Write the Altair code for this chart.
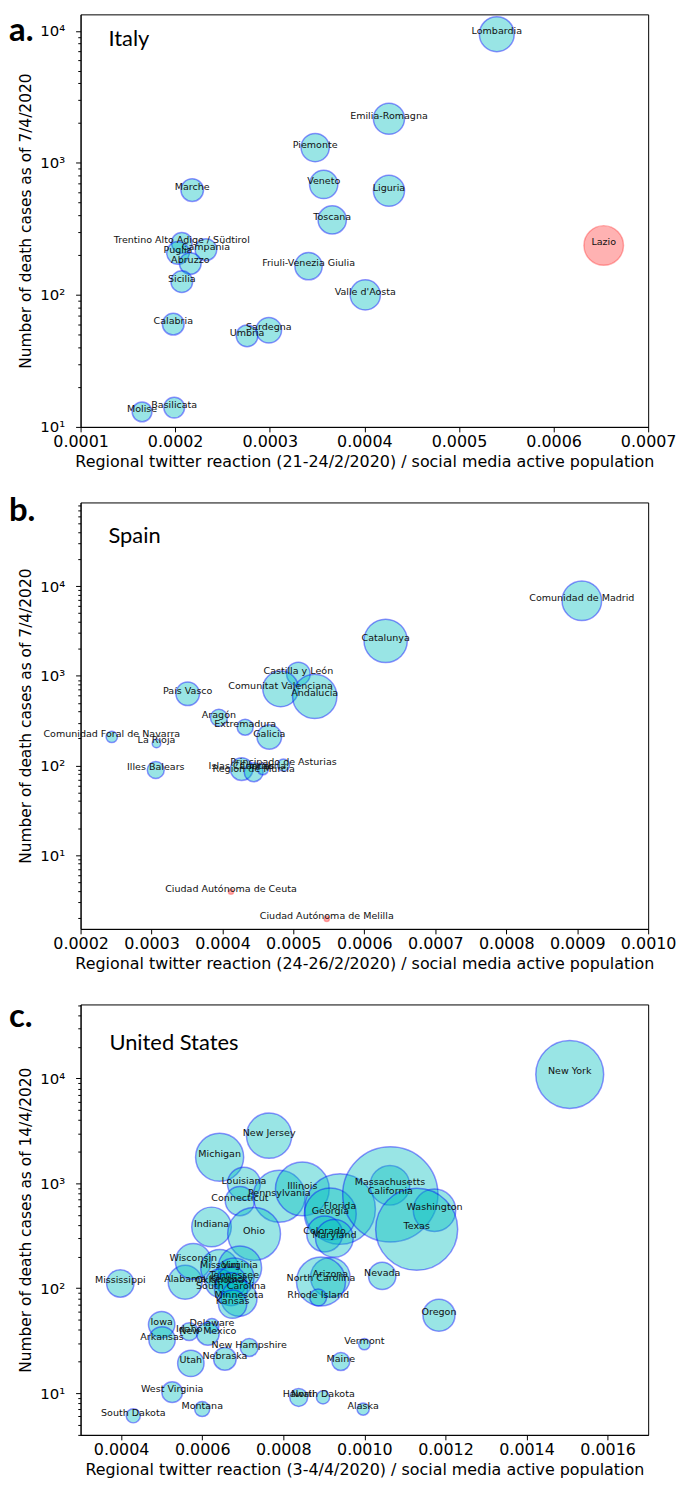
import altair as alt
import pandas as pd

# ---------------- Italy ----------------
it_region = ["Lombardia", "Emilia-Romagna", "Piemonte", "Marche", "Veneto", "Liguria",
             "Toscana", "Lazio", "Trentino Alto Adige / Südtirol", "Puglia", "Campania",
             "Abruzzo", "Sicilia", "Friuli-Venezia Giulia", "Valle d'Aosta", "Calabria",
             "Umbria", "Sardegna", "Molise", "Basilicata"]
it_tweet = [0.000540, 0.000426, 0.000348, 0.000218, 0.000357, 0.000426,
            0.000366, 0.000653, 0.000207, 0.000203, 0.0002325,
            0.000216, 0.000207, 0.000341, 0.000401, 0.000198,
            0.000276, 0.000299, 0.000165, 0.000199]
it_deaths = [9440, 2160, 1306, 622, 687, 615,
             370, 237, 248, 208, 220,
             173, 126, 165, 100, 60,
             49, 54, 13, 14]
it_bubble = [1369, 1089, 900, 576, 900, 1089,
             900, 1764, 484, 576, 529,
             529, 529, 841, 1024, 529,
             529, 729, 441, 484]
it_group = ["main"] * 7 + ["outlier"] + ["main"] * 12

# ---------------- Spain ----------------
es_region = ["Comunidad de Madrid", "Catalunya", "Castilla y León", "Comunitat Valenciana",
             "Andalucía", "País Vasco", "Aragón", "Extremadura", "Galicia",
             "Comunidad Foral de Navarra", "La Rioja", "Illes Balears", "Islas Canarias",
             "Región de Murcia", "Cantabria", "Principado de Asturias",
             "Ciudad Autónoma de Ceuta", "Ciudad Autónoma de Melilla"]
es_tweet = [0.0009065, 0.000630, 0.000507, 0.000482,
            0.000530, 0.000351, 0.000395, 0.000432, 0.000466,
            0.000244, 0.000307, 0.000306, 0.000427,
            0.000444, 0.000457, 0.000486,
            0.000412, 0.000547]
es_deaths = [6870, 2455, 1050, 716,
             589, 630, 341, 267, 208,
             208, 176, 89, 91,
             84, 91, 101,
             3.9, 1.94]
es_bubble = [1764, 2116, 625, 1444,
             2209, 625, 324, 289, 676,
             144, 81, 324, 576,
             400, 144, 169,
             30, 30]
es_group = ["main"] * 16 + ["outlier", "outlier"]

# ---------------- United States ----------------
us_region = ["New York", "New Jersey", "Michigan", "Louisiana", "Connecticut", "Pennsylvania",
             "Illinois", "Indiana", "Ohio", "Florida", "Georgia", "Massachusetts",
             "California", "Washington", "Texas", "Colorado", "Maryland", "Nevada",
             "Arizona", "North Carolina", "Rhode Island", "Oregon", "Vermont", "Maine",
             "Hawaii", "North Dakota", "Alaska", "South Dakota", "Montana", "West Virginia",
             "Utah", "Nebraska", "New Hampshire", "Iowa", "Arkansas", "Idaho",
             "Delaware", "New Mexico", "Mississippi", "Alabama", "Wisconsin", "Missouri",
             "Virginia", "Tennessee", "Oklahoma", "Kentucky", "South Carolina", "Minnesota",
             "Kansas"]
us_tweet = [0.0015065, 0.000765, 0.000643, 0.000703, 0.000693, 0.000790,
            0.000847, 0.000623, 0.000728, 0.000940, 0.000916, 0.001063,
            0.001064, 0.001173, 0.001129, 0.000902, 0.000926, 0.001044,
            0.000916, 0.000893, 0.000886, 0.001184, 0.001000, 0.000942,
            0.000838, 0.000898, 0.000997, 0.000430, 0.000600, 0.000526,
            0.000572, 0.000656, 0.000716, 0.000500, 0.000501, 0.000568,
            0.000624, 0.000614, 0.000398, 0.000558, 0.000578, 0.000643,
            0.000693, 0.000679, 0.000643, 0.000672, 0.000671, 0.000691,
            0.000675]
us_deaths = [10910, 2846, 1770, 993, 678, 752,
             883, 384, 329, 569, 510, 957,
             785, 553, 365, 329, 299, 131,
             127, 116, 81.5, 55.3, 29.3, 20,
             9.1, 9.1, 7.05, 6.08, 7.05, 10.2,
             19.2, 21.2, 27.2, 45, 32.2, 38.6,
             44, 36.7, 111, 114, 180, 155,
             157, 126, 112, 115, 98, 80,
             70.5]
us_bubble = [5184, 2304, 2601, 1225, 961, 3025,
             3249, 1764, 3136, 5625, 3025, 1764,
             10201, 2025, 7569, 1444, 1600, 841,
             1764, 2704, 324, 1156, 144, 361,
             361, 196, 169, 225, 256, 484,
             784, 576, 361, 784, 784, 361,
             225, 576, 841, 1296, 1444, 1600,
             2116, 1764, 900, 1024, 1225, 1444,
             900]
us_group = ["main"] * len(us_region)


def log_ticks(lo, hi):
    vals = []
    for k in range(0, 6):
        for m in range(1, 10):
            v = m * 10 ** k
            if lo <= v <= hi:
                vals.append(v)
    return vals


SUP = ("datum.value == 1 ? '10\u2070' : datum.value == 10 ? '10\u00b9' : "
       "datum.value == 100 ? '10\u00b2' : datum.value == 1000 ? '10\u00b3' : "
       "datum.value == 10000 ? '10\u2074' : ''")
MAJOR = ("datum.value == 1 || datum.value == 10 || datum.value == 100 || "
         "datum.value == 1000 || datum.value == 10000")


def panel(region, tweet, deaths, bubble, group, xdom, xticks, ydom, xtitle, ytitle,
          country, country_x, country_y, letter, letter_y, width, height):
    df = pd.DataFrame({"region": region, "tweet": tweet, "deaths": deaths,
                       "bubble": bubble, "group": group})
    x = alt.X("tweet:Q",
              scale=alt.Scale(domain=xdom, nice=False, zero=False),
              axis=alt.Axis(values=xticks, format=".4f", title=xtitle, labelFlush=False,
                            labelFontSize=16, titleFontSize=16,
                            labelPadding=2, titlePadding=4, tickSize=5))
    y = alt.Y("deaths:Q",
              scale=alt.Scale(type="log", domain=ydom, nice=False),
              axis=alt.Axis(values=log_ticks(ydom[0], ydom[1]), labelExpr=SUP,
                            labelOverlap=False, title=ytitle,
                            tickSize={"condition": {"test": MAJOR, "value": 5}, "value": 2.8},
                            labelPadding=11, titlePadding=6))
    base = alt.Chart(df)
    circles = base.mark_circle(strokeWidth=1.5, opacity=1).encode(
        x=x, y=y,
        size=alt.Size("bubble:Q", scale=alt.Scale(domain=[0, 10000], range=[0, 9000], zero=True),
                      legend=None),
        color=alt.Color("group:N", scale=alt.Scale(domain=["main", "outlier"],
                                                   range=["#00bfbf", "#ff0000"]), legend=None),
        stroke=alt.Stroke("group:N", scale=alt.Scale(domain=["main", "outlier"],
                                                     range=["#0000ff", "#ff0000"]), legend=None),
        fillOpacity=alt.FillOpacity("group:N", scale=alt.Scale(domain=["main", "outlier"],
                                                               range=[0.4, 0.3]), legend=None),
        strokeOpacity=alt.StrokeOpacity("group:N", scale=alt.Scale(domain=["main", "outlier"],
                                                                   range=[0.42, 0.3]), legend=None),
    )
    labels = base.mark_text(font="DejaVu Sans", fontSize=9.6, align="center",
                            baseline="alphabetic", color="#111111").encode(
        x="tweet:Q", y="deaths:Q", text="region:N")
    ctext = alt.Chart(pd.DataFrame({"t": [country]})).mark_text(
        font="Lato", fontSize=22, align="left", baseline="alphabetic", color="black").encode(
        x=alt.value(country_x), y=alt.value(country_y), text="t:N")
    ltext = alt.Chart(pd.DataFrame({"t": [letter]})).mark_text(
        font="Lato", fontSize=33, fontWeight="bold", align="left", baseline="alphabetic",
        color="black").encode(x=alt.value(-72), y=alt.value(letter_y), text="t:N")
    return alt.layer(circles, labels, ctext, ltext).properties(width=width, height=height)


pa = panel(it_region, it_tweet, it_deaths, it_bubble, it_group,
           [0.0001, 0.0007], [0.0001, 0.0002, 0.0003, 0.0004, 0.0005, 0.0006, 0.0007],
           [10, 13340],
           "Regional twitter reaction (21-24/2/2020) / social media active population",
           "Number of death cases as of 7/4/2020", "Italy", 28, 32, "a.", 27, 571, 415)
pb = panel(es_region, es_tweet, es_deaths, es_bubble, es_group,
           [0.0002, 0.0010],
           [0.0002, 0.0003, 0.0004, 0.0005, 0.0006, 0.0007, 0.0008, 0.0009, 0.0010],
           [1.5, 86000],
           "Regional twitter reaction (24-26/2/2020) / social media active population",
           "Number of death cases as of 7/4/2020", "Spain", 28, 41, "b.", 19, 571, 429)
pc = panel(us_region, us_tweet, us_deaths, us_bubble, us_group,
           [0.0003, 0.0017], [0.0004, 0.0006, 0.0008, 0.0010, 0.0012, 0.0014, 0.0016],
           [4.0, 50700],
           "Regional twitter reaction (3-4/4/2020) / social media active population",
           "Number of death cases as of 14/4/2020", "United States", 29, 46, "c.", 23, 571, 433)

chart = alt.vconcat(pa, pb, pc, spacing=76, bounds="flush").properties(
    padding=0
).configure_view(stroke="black", strokeWidth=1).configure_axis(
    grid=False, domainColor="black", domainWidth=1, tickColor="black", tickWidth=1,
    labelFont="DejaVu Sans", labelFontSize=15, labelColor="black",
    titleFont="DejaVu Sans", titleFontSize=15.5, titleFontWeight="normal", titleColor="black"
)

chart.save("out.html", embed_options={"renderer": "svg", "actions": False})
